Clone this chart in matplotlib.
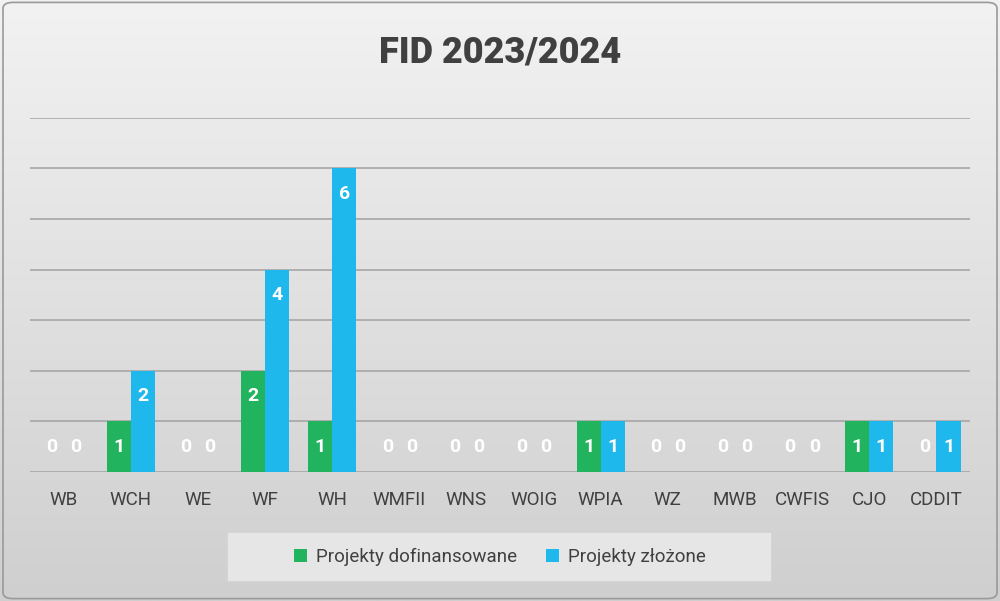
import matplotlib.pyplot as plt
import numpy as np
from matplotlib.patches import FancyBboxPatch, Rectangle

plt.rcParams['font.family'] = ['Roboto', 'DejaVu Sans']

categories = ['WB', 'WCH', 'WE', 'WF', 'WH', 'WMFII', 'WNS', 'WOIG', 'WPIA', 'WZ', 'MWB', 'CWFIS', 'CJO', 'CDDIT']
dofinansowane = [0, 1, 0, 2, 1, 0, 0, 0, 1, 0, 0, 0, 1, 0]
zlozone = [0, 2, 0, 4, 6, 0, 0, 0, 1, 0, 0, 0, 1, 1]

green = '#22b35e'
blue = '#1fb8ec'

fig = plt.figure(figsize=(10, 6.01), dpi=100)

# gradient background
bg = fig.add_axes([0, 0, 1, 1], zorder=-10)
grad = np.linspace(0, 1, 256).reshape(-1, 1)
bg.imshow(grad, aspect='auto', cmap=plt.matplotlib.colors.LinearSegmentedColormap.from_list('g', ['#f2f2f2', '#cfcfcf']),
          extent=[0, 1, 0, 1], origin='upper')
bg.add_patch(FancyBboxPatch((0.003, 0.004), 0.994, 0.992, boxstyle='round,pad=0,rounding_size=0.01',
                            fill=False, edgecolor='#9a9a9a', lw=1.2, transform=bg.transAxes))
bg.set_xlim(0, 1)
bg.set_ylim(0, 1)
bg.axis('off')

ax = fig.add_axes([0.03, 0.215, 0.94, 0.589])
ax.patch.set_alpha(0)
x = np.arange(len(categories))
w = 0.36
b1 = ax.bar(x - w / 2, dofinansowane, w, color=green, label='Projekty dofinansowane', zorder=3)
b2 = ax.bar(x + w / 2, zlozone, w, color=blue, label='Projekty złożone', zorder=3)

for bars, vals in [(b1, dofinansowane), (b2, zlozone)]:
    for bar, v in zip(bars, vals):
        ax.text(bar.get_x() + bar.get_width() / 2, max(v, 1) - 0.5, str(v), ha='center', va='center',
                color='white', fontsize=14, fontweight='bold', zorder=4)

ax.set_xlim(-0.5, len(categories) - 0.5)
ax.set_ylim(0, 7)
ax.set_yticks(range(8))
ax.yaxis.grid(True, color='#a6a6a6', lw=1.2, zorder=0)
ax.tick_params(left=False, labelleft=False, bottom=False, labelsize=13.5, labelcolor='#404040', pad=10)
ax.set_xticks(x)
ax.set_xticklabels(categories)
for s in ax.spines.values():
    s.set_visible(False)

fig.text(0.5, 0.913, 'FID 2023/2024', ha='center', va='center', fontsize=26, fontweight='heavy', color='#404040')

# legend box
bg.add_patch(Rectangle((0.228, 1 - 580 / 601), 0.542, 47 / 601, color='#e6e6e6', zorder=1))
fig.legend(loc='center', bbox_to_anchor=(0.5, 1 - 557 / 601), ncol=2, frameon=False, fontsize=13.5,
           labelcolor='#404040', handlelength=0.7, handleheight=0.7, columnspacing=1.5, handletextpad=0.5)

fig.savefig('out.png', dpi=100)
